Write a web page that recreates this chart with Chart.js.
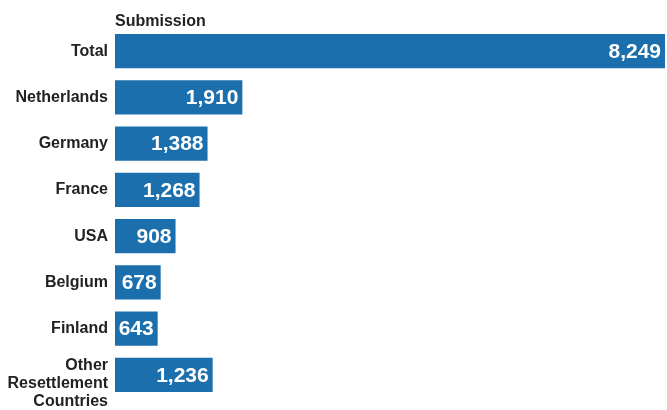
<!DOCTYPE html>
<html>
<head>
<meta charset="utf-8">
<script src="https://cdn.jsdelivr.net/npm/chart.js@4"></script>
<style>
    html, body { margin: 0; padding: 0; background: #fff; }
    #wrap { width: 667px; height: 410px; position: relative; }
</style>
</head>
<body>
<div id="wrap"><canvas id="chart"></canvas></div>
<script>
// Categories (last label has a blank first line so it sits low, as in the picture)
const countries = ['Total', 'Netherlands', 'Germany', 'France', 'USA', 'Belgium', 'Finland',
    ['', 'Other', 'Resettlement', 'Countries']];
// Bar lengths as drawn in the picture (the last bar is drawn longer than its printed number)
const barLengths = [8249, 1910, 1388, 1268, 908, 685, 640, 1465];
// Numbers printed on the bars
const printedValues = ['8,249', '1,910', '1,388', '1,268', '908', '678', '643', '1,236'];
const chartTitle = 'Submission';

const barColor = '#1b6fad';
const textColor = '#222222';
const fontFamily = '"Liberation Sans", Arial, sans-serif';

// Draw the title and the white value labels at the end of each bar
const labelPlugin = {
    id: 'labels',
    afterDatasetsDraw: function (chart) {
        const ctx = chart.ctx;
        const meta = chart.getDatasetMeta(0);
        ctx.save();
        ctx.font = `bold 21px ${fontFamily}`;
        ctx.fillStyle = '#ffffff';
        ctx.textAlign = 'right';
        ctx.textBaseline = 'middle';
        meta.data.forEach((bar, i) => {
            ctx.fillText(printedValues[i], bar.x - 4, bar.y + 1);
        });
        ctx.font = `bold 16px ${fontFamily}`;
        ctx.fillStyle = textColor;
        ctx.textAlign = 'left';
        ctx.textBaseline = 'alphabetic';
        ctx.fillText(chartTitle, chart.chartArea.left, 26);
        ctx.restore();
    },
};

new Chart(document.getElementById('chart'), {
    type: 'bar',
    data: {
        labels: countries,
        datasets: [{
            data: barLengths,
            backgroundColor: barColor,
            categoryPercentage: 1,
            barPercentage: 0.74,
        }],
    },
    options: {
        indexAxis: 'y',
        responsive: true,
        maintainAspectRatio: false,
        animation: false,
        layout: {
            padding: { top: 28, bottom: 12, left: 0, right: 2 },
        },
        plugins: {
            legend: { display: false },
            tooltip: { enabled: false },
        },
        scales: {
            x: {
                display: false,
                min: 0,
                max: 8249,
            },
            y: {
                grid: { display: false, drawTicks: false },
                border: { display: false },
                afterFit: (scale) => {
                    // fixed label column, and no extra room for the tall last label
                    scale.width = 115;
                    scale.paddingTop = 0;
                    scale.paddingBottom = 0;
                },
                ticks: {
                    autoSkip: false,
                    color: textColor,
                    padding: 7,
                    font: { family: fontFamily, size: 16, weight: 'bold', lineHeight: 1.125 },
                },
            },
        },
    },
    plugins: [labelPlugin],
});
</script>
</body>
</html>
